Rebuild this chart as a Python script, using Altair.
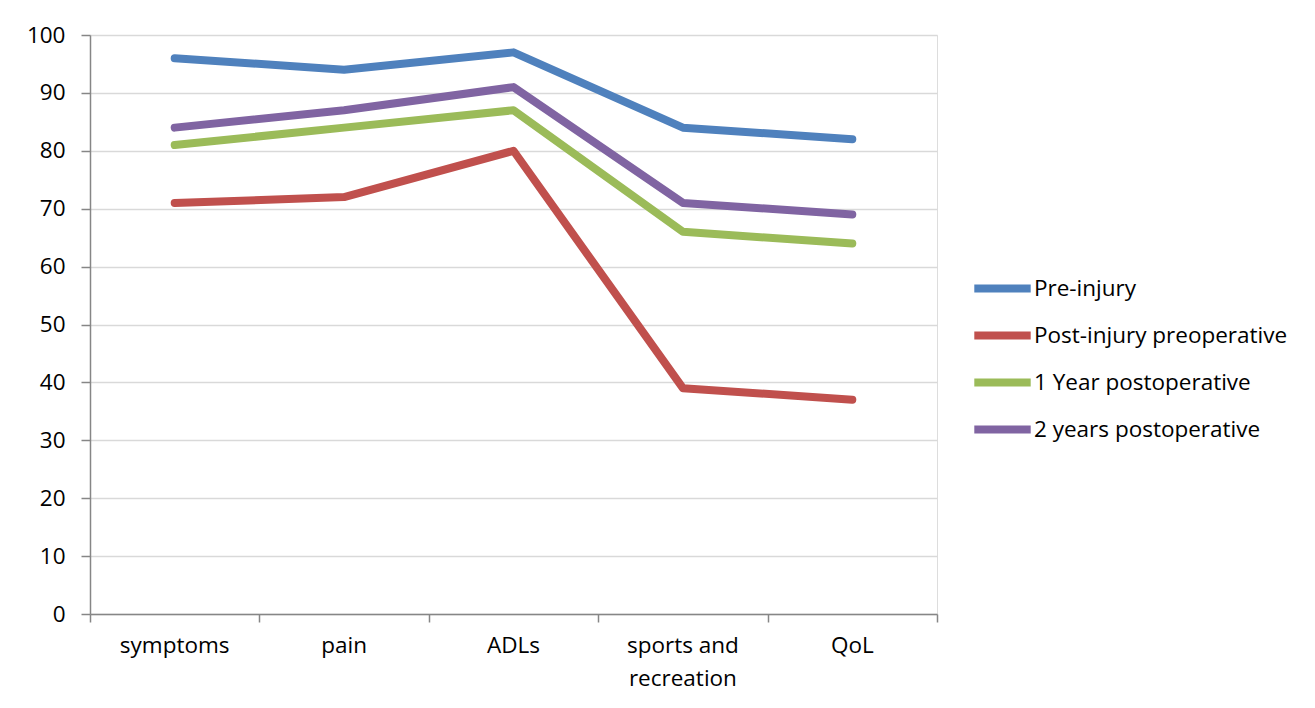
import altair as alt
import pandas as pd

categories = ["symptoms", "pain", "ADLs", "sports and\nrecreation", "QoL"]
series_names = ["Pre-injury", "Post-injury preoperative", "1 Year postoperative", "2 years postoperative"]
pre_injury = [96, 94, 97, 84, 82]
post_injury_preop = [71, 72, 80, 39, 37]
one_year_postop = [81, 84, 87, 66, 64]
two_years_postop = [84, 87, 91, 71, 69]
colors = ["#4F81BD", "#C0504D", "#9BBB59", "#8064A2"]
y_ticks = [0, 10, 20, 30, 40, 50, 60, 70, 80, 90, 100]

rows = []
for name, vals in zip(series_names, [pre_injury, post_injury_preop, one_year_postop, two_years_postop]):
    for i, (c, v) in enumerate(zip(categories, vals)):
        rows.append({"series": name, "category": c, "pos": i + 0.5, "value": v})
df = pd.DataFrame(rows)
cat_df = pd.DataFrame({"category": categories, "pos": [i + 0.5 for i in range(len(categories))]})

W, H = 847, 579
FONT = "Open Sans"
FS = 22.5

x_scale = alt.Scale(domain=[0, len(categories)], nice=False, zero=False)

lines = alt.Chart(df).mark_line(strokeWidth=8, strokeCap="round", strokeJoin="round").encode(
    x=alt.X("pos:Q", scale=x_scale,
            axis=alt.Axis(title=None, values=list(range(len(categories) + 1)), labels=False,
                          grid=False, tickSize=8, tickColor="#868686", domainColor="#868686",
                          domainWidth=1.5, tickWidth=1.5)),
    y=alt.Y("value:Q", scale=alt.Scale(domain=[0, 100], nice=False),
            axis=alt.Axis(title=None, values=y_ticks, tickSize=9, tickColor="#868686",
                          domainColor="#868686", domainWidth=1.5, tickWidth=1.5,
                          gridColor="#D9D9D9", gridWidth=1.5, labelFontSize=FS,
                          labelFont=FONT, labelColor="#000000", labelPadding=16)),
    color=alt.Color("series:N", scale=alt.Scale(domain=series_names, range=colors),
                    sort=series_names,
                    legend=alt.Legend(title=None, orient="none", legendX=885, legendY=226,
                                      symbolType="M-1.2,0H1.2", symbolSize=2209, symbolStrokeWidth=8,
                                      labelFont=FONT, labelFontSize=FS, labelColor="#000000",
                                      rowPadding=3, labelOffset=4, labelLimit=400)),
    detail="series:N",
)

labels = alt.Chart(cat_df).mark_text(lineBreak="\n", baseline="top", align="center",
                                     font=FONT, fontSize=FS, color="#000000", lineHeight=33).encode(
    x=alt.X("pos:Q", scale=x_scale),
    y=alt.value(H + 21),
    text="category:N",
)

chart = alt.layer(lines, labels).properties(
    width=W, height=H,
    autosize=alt.AutoSizeParams(type="none"),
    padding={"left": 82, "top": 27, "right": 370, "bottom": 90},
).configure_view(stroke=None).configure(background="white")

chart.save("out.html", embed_options={"renderer": "svg", "actions": False})
